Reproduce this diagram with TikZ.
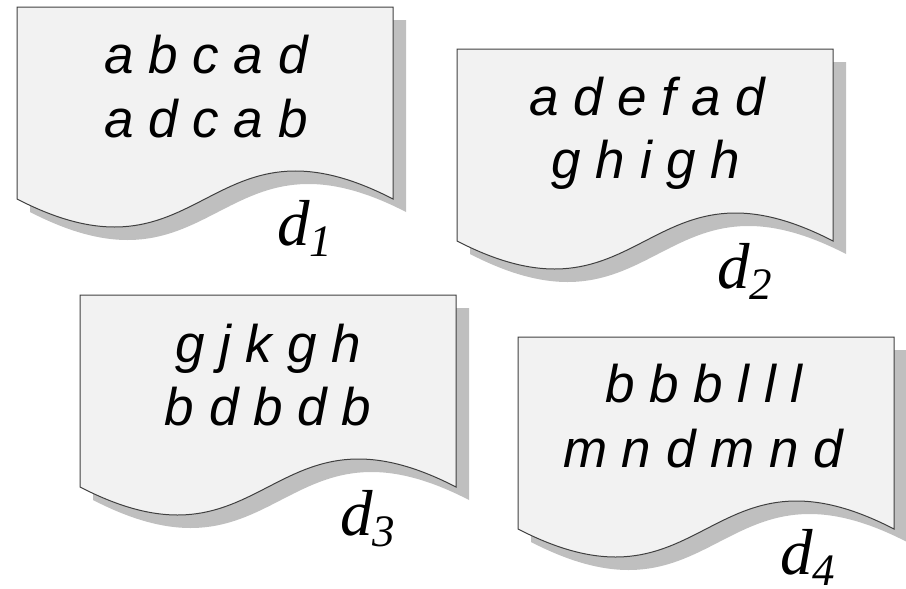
\documentclass[tikz,border=0pt]{standalone}
\usepackage{fontspec}
\newfontfamily\docfont{Liberation Sans}
\newfontfamily\labfont{Liberation Serif}
\definecolor{docfill}{HTML}{F2F2F2}
\definecolor{docshade}{HTML}{BFBFBF}
\definecolor{docline}{HTML}{404040}
\newcommand{\doclabel}[1]{\labfont\itshape\fontsize{65}{65}\selectfont d\raisebox{-11pt}{\fontsize{45}{45}\selectfont #1}}
\tikzset{
  docshape/.pic={
    \fill[docshade] (13,13) -- (389,13) -- (389,205) .. controls (201,108) and (201,302) .. (13,205) -- cycle;
    \draw[docline, fill=docfill, line width=1pt] (0,0) -- (376,0) -- (376,192) .. controls (188,95) and (188,289) .. (0,192) -- cycle;
  },
  words/.style={anchor=base, inner sep=0pt, font=\docfont\itshape\fontsize{53}{53}\selectfont},
  dlabel/.style={anchor=base west, inner sep=0pt}
}
\begin{document}
\begin{tikzpicture}[x=1pt, y=-1pt]
\useasboundingbox (0,0) rectangle (906,589);
% d1
\pic at (17,7) {docshape};
\node[words] (d1a) at (206,73) {a b c a d};
\node[words] (d1b) at (206,137) {a d c a b};
\node[dlabel] (d1l) at (277,245) {\doclabel{1}};
% d2
\pic at (457,49) {docshape};
\node[words] (d2a) at (647,115) {a d e f a d};
\node[words] (d2b) at (646,178) {g h i g h};
\node[dlabel] (d2l) at (717,288) {\doclabel{2}};
% d3
\pic at (80,295) {docshape};
\node[words] (d3a) at (268,362) {g j k g h};
\node[words] (d3b) at (268,425) {b d b d b};
\node[dlabel] (d3l) at (340,535) {\doclabel{3}};
% d4
\pic at (518,337) {docshape};
\node[words] (d4a) at (704,402) {b b b l l l};
\node[words] (d4b) at (703,467) {m n d m n d};
\node[dlabel] (d4l) at (780,574) {\doclabel{4}};
\end{tikzpicture}
\end{document}
